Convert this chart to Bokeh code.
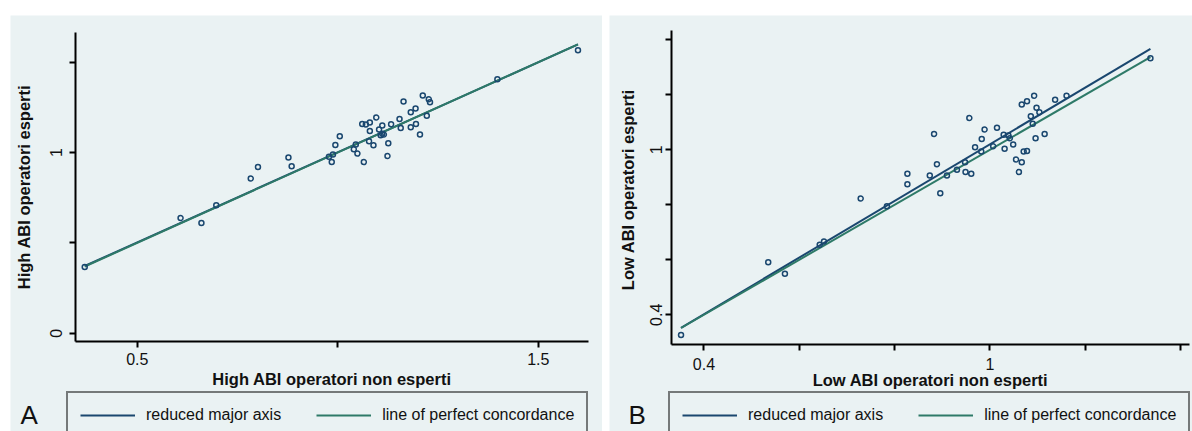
from bokeh.plotting import figure
from bokeh.models import FixedTicker, Legend, LegendItem, Range1d, Spacer
from bokeh.core.properties import value
from bokeh.layouts import row, column
from bokeh.embed import file_html
from bokeh.resources import INLINE

# ---------------- data ----------------
high_non_esperti = [0.369, 0.608, 0.660, 0.697, 0.783, 0.801, 0.877, 0.885, 0.978, 0.985,
                    0.988, 0.994, 1.005, 1.040, 1.045, 1.049, 1.065, 1.061, 1.070, 1.080,
                    1.080, 1.078, 1.089, 1.096, 1.103, 1.111, 1.107, 1.111, 1.115, 1.126,
                    1.124, 1.133, 1.154, 1.157, 1.164, 1.182, 1.182, 1.194, 1.195, 1.205,
                    1.212, 1.222, 1.227, 1.230, 1.398, 1.599]
high_esperti = [0.367, 0.638, 0.610, 0.708, 0.856, 0.920, 0.972, 0.924, 0.976, 0.947,
                0.989, 1.042, 1.090, 1.018, 1.044, 0.994, 0.947, 1.158, 1.155, 1.166,
                1.119, 1.063, 1.040, 1.194, 1.127, 1.150, 1.095, 1.104, 1.100, 1.051,
                0.981, 1.157, 1.186, 1.136, 1.282, 1.223, 1.140, 1.243, 1.158, 1.100,
                1.316, 1.203, 1.295, 1.278, 1.406, 1.566]

low_non_esperti = [0.352, 0.535, 0.570, 0.643, 0.652, 0.729, 0.784, 0.827, 0.827, 0.896,
                   0.874, 0.889, 0.883, 0.910, 0.931, 0.948, 0.949, 0.961, 0.957, 0.969,
                   0.982, 0.983, 0.989, 1.007, 1.015, 1.031, 1.029, 1.039, 1.042, 1.049,
                   1.055, 1.067, 1.071, 1.078, 1.061, 1.096, 1.115, 1.090, 1.086, 1.104,
                   1.098, 1.067, 1.078, 1.093, 1.137, 1.161, 1.337]
low_esperti = [0.327, 0.591, 0.549, 0.655, 0.667, 0.823, 0.795, 0.913, 0.875, 0.842,
               0.907, 0.948, 1.058, 0.907, 0.928, 0.955, 0.919, 0.913, 1.116, 1.009,
               0.994, 1.039, 1.074, 1.013, 1.080, 1.004, 1.055, 1.052, 1.042, 1.019,
               0.965, 0.955, 0.994, 0.996, 0.919, 1.042, 1.058, 1.095, 1.122, 1.137,
               1.153, 1.165, 1.177, 1.197, 1.182, 1.197, 1.333]

# reduced major axis lines: (intercept, slope)
rma_high = (0.004, 0.997)
rma_low = (-0.010, 1.030)
# line of perfect concordance
perfect = (0.0, 1.0)

legend_labels = ["reduced major axis", "line of perfect concordance"]

a_xticks = [0.5, 1.0, 1.5]
a_xticklabels = ["0.5", "", "1.5"]
a_yticks = [0.0, 0.5, 1.0, 1.5]
a_yticklabels = ["0", "", "1", ""]
b_xticks = [0.4, 0.6, 0.8, 1.0, 1.2, 1.4]
b_xticklabels = ["0.4", "", "", "1", "", ""]
b_yticks = [0.4, 0.6, 0.8, 1.0, 1.2, 1.4]
b_yticklabels = ["0.4", "", "", "1", "", ""]

# ---------------- styling / geometry ----------------
BG = "#eaf2f3"
NAVY = "#1a476f"
GREEN = "#2e7a68"
FONT = "Liberation Sans"
TOP = 15          # page y of panel tops
H = 416           # panel height


def panel(x, y, rma, xr, yr, xt, xtl, yt, ytl, xtitle, ytitle, letter,
          ox, width, box, ystand, xstand, leg_left, letter_x):
    # box = page pixel box (left, right, top, bottom) of the plot region
    l, r, t, b = box
    kx = (xr[1] - xr[0]) / (r - l)
    ky = (yr[1] - yr[0]) / (b - t)
    x0 = xr[0] - (l - ox) * kx
    y0 = yr[0] - (TOP + H - b) * ky
    x_range = Range1d(x0, xr[1] + (ox + width - r) * kx)
    y_range = Range1d(y0, yr[1] + (t - TOP) * ky)

    p = figure(width=width, height=H, x_range=x_range, y_range=y_range,
               output_backend="svg", toolbar_location=None,
               min_border_left=0, min_border_right=0, min_border_top=0, min_border_bottom=0)
    p.background_fill_color = BG
    p.border_fill_color = BG
    p.outline_line_color = None
    p.grid.visible = False

    for ax in (p.xaxis[0], p.yaxis[0]):
        ax.axis_line_width = 2
        ax.axis_line_color = "black"
        ax.major_tick_line_width = 2
        ax.major_tick_line_color = "black"
        ax.major_tick_out = 6
        ax.major_tick_in = 0
        ax.minor_tick_line_color = None
        ax.major_label_text_font = FONT
        ax.major_label_text_font_size = "16px"
        ax.major_label_text_color = "#111111"
        ax.axis_label_text_font = FONT
        ax.axis_label_text_font_style = "bold"
        ax.axis_label_text_font_size = "16.5px"
        ax.axis_label_text_color = "#111111"

    p.xaxis.fixed_location = yr[0]
    p.xaxis.bounds = (xr[0], xr[1])
    p.yaxis.fixed_location = xr[0]
    p.yaxis.bounds = (yr[0], yr[1])

    p.xaxis.ticker = FixedTicker(ticks=xt)
    p.xaxis.major_label_overrides = {tk: lb for tk, lb in zip(xt, xtl)}
    p.yaxis.ticker = FixedTicker(ticks=yt)
    p.yaxis.major_label_overrides = {tk: lb for tk, lb in zip(yt, ytl)}
    p.yaxis.major_label_orientation = "vertical"
    p.xaxis.axis_label = xtitle
    p.yaxis.axis_label = ytitle
    p.yaxis.major_label_standoff = ystand[0]
    p.yaxis.axis_label_standoff = ystand[1]
    p.xaxis.major_label_standoff = xstand[0]
    p.xaxis.axis_label_standoff = xstand[1]

    xs = [min(x), max(x)]
    r1 = p.line(xs, [rma[0] + rma[1] * v for v in xs], line_color=NAVY, line_width=2)
    r2 = p.line(xs, [perfect[0] + perfect[1] * v for v in xs], line_color=GREEN, line_width=2)
    p.scatter(x, y, marker="circle", size=5, fill_color=None, line_color=NAVY, line_width=1.5)

    pad = 12
    leg_h = 2 * pad + 20
    leg_top = 395 - TOP
    leg = Legend(items=[LegendItem(label=legend_labels[0], renderers=[r1]),
                        LegendItem(label=legend_labels[1], renderers=[r2])],
                 orientation="horizontal", location=(leg_left - ox, H - leg_top - leg_h),
                 padding=pad, spacing=35, glyph_width=55, glyph_height=20,
                 label_standoff=11, label_height=20,
                 label_text_font=FONT, label_text_font_size="16px",
                 label_text_color="#111111",
                 border_line_color="black", border_line_width=2,
                 background_fill_color=BG, background_fill_alpha=1.0,
                 margin=0)
    p.add_layout(leg)

    # panel letter, vertically centred at page y = 414
    p.text(x=[x0 + (letter_x - ox) * kx], y=[y0 + (TOP + H - 414) * ky], text=[letter],
           text_font=value(FONT), text_font_size="26px", text_color="#111111",
           text_baseline="middle", text_align="left")
    return p


pa = panel(high_non_esperti, high_esperti, rma_high, (0.346, 1.624), (-0.046, 1.666),
           a_xticks, a_xticklabels, a_yticks, a_yticklabels,
           "High ABI operatori non esperti", "High ABI operatori esperti", "A",
           10, 592, (75, 587.5, 31.7, 341), (7, 15), (5, 2), 66, 20)

pb = panel(low_non_esperti, low_esperti, rma_low, (0.332, 1.419), (0.292, 1.434),
           b_xticks, b_xticklabels, b_yticks, b_yticklabels,
           "Low ABI operatori non esperti", "Low  ABI operatori esperti", "B",
           609, 583, (671, 1189, 30, 344), (3, 11), (7, -2), 668, 628)

layout = column(Spacer(width=1192, height=TOP),
                row(Spacer(width=10, height=10), pa, Spacer(width=7, height=10), pb, spacing=0),
                spacing=0)

open("out.html", "w").write(file_html(layout, INLINE))
